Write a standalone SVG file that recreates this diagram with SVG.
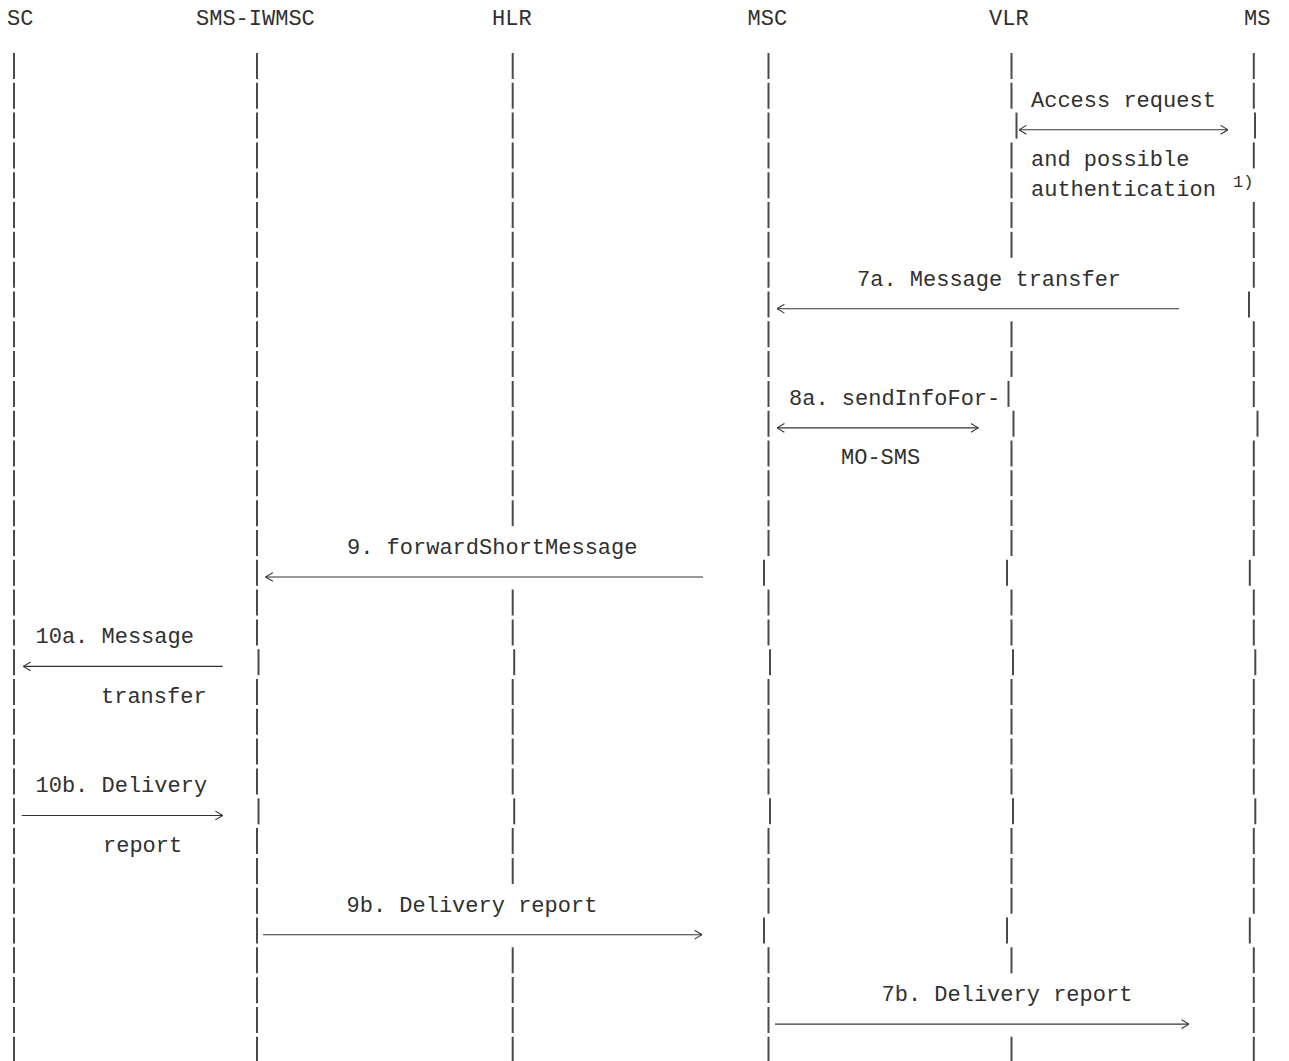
<svg xmlns="http://www.w3.org/2000/svg" width="1289" height="1061" viewBox="0 0 1289 1061">
<style>
.t{font-family:"Liberation Mono","Courier New",monospace;font-size:22px;fill:#303030;}
.sup{font-family:"Liberation Mono","Courier New",monospace;font-size:17px;fill:#303030;}
.ll{stroke:#4a4a4a;stroke-width:2;stroke-dasharray:26 3.81;fill:none;}
.ar{stroke:#333;stroke-width:1.1;fill:none;}
</style>
<defs>
<marker id="ah" viewBox="0 0 8 10" refX="7.6" refY="5" markerWidth="8" markerHeight="10" markerUnits="userSpaceOnUse" orient="auto-start-reverse">
<path d="M0.2,0.6 L7.6,5 L0.2,9.4" fill="none" stroke="#333" stroke-width="1.1"/>
</marker>
</defs>
<rect width="1289" height="1061" fill="#fff"/>

<g id="node-SC">
<text class="t" x="7" y="25">SC</text>
<line class="ll" x1="14" y1="53" x2="14" y2="1062.7"/>
</g>

<g id="node-SMS-IWMSC">
<text class="t" x="196" y="25">SMS-IWMSC</text>
<line class="ll" x1="257" y1="53" x2="257" y2="645.4"/>
<line class="ll" x1="258.5" y1="649.2" x2="258.5" y2="675.2"/>
<line class="ll" x1="257" y1="679.0" x2="257" y2="794.4"/>
<line class="ll" x1="258.5" y1="798.3" x2="258.5" y2="824.3"/>
<line class="ll" x1="257" y1="828.1" x2="257" y2="1062.7"/>
</g>

<g id="node-HLR">
<text class="t" x="492" y="25">HLR</text>
<line class="ll" x1="512.7" y1="53" x2="512.7" y2="526.2"/>
<line class="ll" x1="512.7" y1="589.6" x2="512.7" y2="645.4"/>
<line class="ll" x1="514.2" y1="649.2" x2="514.2" y2="675.2"/>
<line class="ll" x1="512.7" y1="679.0" x2="512.7" y2="794.4"/>
<line class="ll" x1="514.2" y1="798.3" x2="514.2" y2="824.3"/>
<line class="ll" x1="512.7" y1="828.1" x2="512.7" y2="883.9"/>
<line class="ll" x1="512.7" y1="947.3" x2="512.7" y2="1062.7"/>
</g>

<g id="node-MSC">
<text class="t" x="747.5" y="25">MSC</text>
<line class="ll" x1="768.5" y1="53" x2="768.5" y2="556.0"/>
<line class="ll" x1="764" y1="559.8" x2="764" y2="585.8"/>
<line class="ll" x1="768.5" y1="589.6" x2="768.5" y2="645.4"/>
<line class="ll" x1="770" y1="649.2" x2="770" y2="675.2"/>
<line class="ll" x1="768.5" y1="679.0" x2="768.5" y2="794.4"/>
<line class="ll" x1="770" y1="798.3" x2="770" y2="824.3"/>
<line class="ll" x1="768.5" y1="828.1" x2="768.5" y2="913.7"/>
<line class="ll" x1="764" y1="917.5" x2="764" y2="943.5"/>
<line class="ll" x1="768.5" y1="947.3" x2="768.5" y2="1062.7"/>
</g>

<g id="node-VLR">
<text class="t" x="989" y="25">VLR</text>
<line class="ll" x1="1011.5" y1="53" x2="1011.5" y2="108.8"/>
<line class="ll" x1="1016.5" y1="112.6" x2="1016.5" y2="138.6"/>
<line class="ll" x1="1011.5" y1="142.4" x2="1011.5" y2="257.9"/>
<line class="ll" x1="1011.5" y1="321.3" x2="1011.5" y2="377.1"/>
<line class="ll" x1="1008.5" y1="380.9" x2="1008.5" y2="406.9"/>
<line class="ll" x1="1013.5" y1="410.7" x2="1013.5" y2="436.7"/>
<line class="ll" x1="1011.5" y1="440.5" x2="1011.5" y2="556.0"/>
<line class="ll" x1="1007" y1="559.8" x2="1007" y2="585.8"/>
<line class="ll" x1="1011.5" y1="589.6" x2="1011.5" y2="645.4"/>
<line class="ll" x1="1013" y1="649.2" x2="1013" y2="675.2"/>
<line class="ll" x1="1011.5" y1="679.0" x2="1011.5" y2="794.4"/>
<line class="ll" x1="1013" y1="798.3" x2="1013" y2="824.3"/>
<line class="ll" x1="1011.5" y1="828.1" x2="1011.5" y2="913.7"/>
<line class="ll" x1="1007" y1="917.5" x2="1007" y2="943.5"/>
<line class="ll" x1="1011.5" y1="947.3" x2="1011.5" y2="973.3"/>
<line class="ll" x1="1011.5" y1="1036.7" x2="1011.5" y2="1062.7"/>
</g>

<g id="node-MS">
<text class="t" x="1244" y="25">MS</text>
<line class="ll" x1="1253.8" y1="53" x2="1253.8" y2="108.8"/>
<line class="ll" x1="1255" y1="112.6" x2="1255" y2="138.6"/>
<line class="ll" x1="1253.8" y1="142.4" x2="1253.8" y2="168.4"/>
<line class="ll" x1="1253.8" y1="202.1" x2="1253.8" y2="287.7"/>
<line class="ll" x1="1249" y1="291.5" x2="1249" y2="317.5"/>
<line class="ll" x1="1253.8" y1="321.3" x2="1253.8" y2="406.9"/>
<line class="ll" x1="1257.5" y1="410.7" x2="1257.5" y2="436.7"/>
<line class="ll" x1="1253.8" y1="440.5" x2="1253.8" y2="556.0"/>
<line class="ll" x1="1249.8" y1="559.8" x2="1249.8" y2="585.8"/>
<line class="ll" x1="1253.8" y1="589.6" x2="1253.8" y2="645.4"/>
<line class="ll" x1="1255.3" y1="649.2" x2="1255.3" y2="675.2"/>
<line class="ll" x1="1253.8" y1="679.0" x2="1253.8" y2="794.4"/>
<line class="ll" x1="1255.3" y1="798.3" x2="1255.3" y2="824.3"/>
<line class="ll" x1="1253.8" y1="828.1" x2="1253.8" y2="913.7"/>
<line class="ll" x1="1249.8" y1="917.5" x2="1249.8" y2="943.5"/>
<line class="ll" x1="1253.8" y1="947.3" x2="1253.8" y2="1062.7"/>
</g>

<g id="connectors">
<line class="ar" x1="1019" y1="129.8" x2="1228" y2="129.8" marker-start="url(#ah)" marker-end="url(#ah)"/>
<line class="ar" x1="777" y1="308.7" x2="1179" y2="308.7" marker-start="url(#ah)"/>
<line class="ar" x1="777" y1="427.9" x2="978.3" y2="427.9" marker-start="url(#ah)" marker-end="url(#ah)"/>
<line class="ar" x1="265.5" y1="577" x2="703" y2="577" marker-start="url(#ah)"/>
<line class="ar" x1="23.3" y1="666.4" x2="222.7" y2="666.4" marker-start="url(#ah)"/>
<line class="ar" x1="21.7" y1="815.5" x2="222.7" y2="815.5" marker-end="url(#ah)"/>
<line class="ar" x1="263" y1="934.7" x2="702" y2="934.7" marker-end="url(#ah)"/>
<line class="ar" x1="775" y1="1024.1" x2="1189" y2="1024.1" marker-end="url(#ah)"/>
</g>

<g id="labels">
<text class="t" x="1031" y="106.6">Access request</text>
<text class="t" x="1031" y="166.2">and possible</text>
<text class="t" x="1031" y="195.5">authentication</text>
<text class="sup" x="1233" y="187">1)</text>
<text class="t" x="857" y="285.5">7a. Message transfer</text>
<text class="t" x="789" y="404.7">8a. sendInfoFor-</text>
<text class="t" x="841" y="464.3">MO-SMS</text>
<text class="t" x="347" y="553.8">9. forwardShortMessage</text>
<text class="t" x="35.5" y="643.2">10a. Message</text>
<text class="t" x="101" y="702.8">transfer</text>
<text class="t" x="35.5" y="792.2">10b. Delivery</text>
<text class="t" x="103" y="851.9">report</text>
<text class="t" x="346.5" y="911.5">9b. Delivery report</text>
<text class="t" x="881.5" y="1000.9">7b. Delivery report</text>
</g>
</svg>
